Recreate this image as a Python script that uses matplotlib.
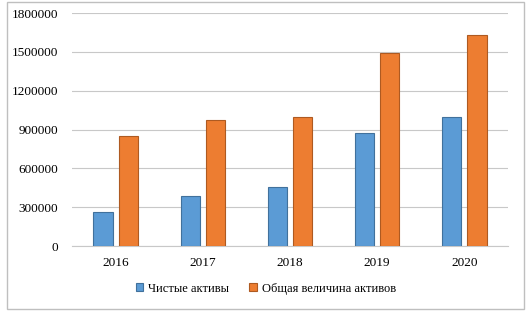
import matplotlib.pyplot as plt
import numpy as np
from matplotlib.patches import Rectangle

years = ["2016", "2017", "2018", "2019", "2020"]
net_assets = [262000, 385000, 455000, 870000, 995000]
total_assets = [850000, 975000, 997000, 1490000, 1630000]
labels = ["Чистые активы", "Общая величина активов"]
yticks = [0, 300000, 600000, 900000, 1200000, 1500000, 1800000]

plt.rcParams["font.family"] = ["Liberation Serif", "DejaVu Serif"]

fig = plt.figure(figsize=(5.32, 3.15), dpi=100)
ax = fig.add_axes([0.1353, 0.219, 0.8195, 0.7397])

x = np.arange(len(years))
w = 0.22
gap = 0.07
ax.bar(x - (w + gap) / 2, net_assets, w, color="#5B9BD5",
       edgecolor="#41719C", linewidth=0.8, label=labels[0], zorder=3)
ax.bar(x + (w + gap) / 2, total_assets, w, color="#ED7D31",
       edgecolor="#AE5A21", linewidth=0.8, label=labels[1], zorder=3)

ax.set_xlim(-0.5, len(years) - 0.5)
ax.set_ylim(0, 1800000)
ax.set_yticks(yticks)
ax.set_yticklabels([str(v) for v in yticks])
ax.set_xticks(x)
ax.set_xticklabels(years)
ax.tick_params(axis="both", length=0, labelsize=9.5, colors="#000000")
ax.tick_params(axis="y", pad=10)
ax.tick_params(axis="x", pad=8)
ax.grid(axis="y", color="#c8c8c8", linewidth=0.8, zorder=0)
for s in ["top", "right", "left"]:
    ax.spines[s].set_visible(False)
ax.spines["bottom"].set_color("#c8c8c8")
ax.spines["bottom"].set_linewidth(0.8)

fig.legend(loc="center", bbox_to_anchor=(0.5, 0.083), ncol=2, frameon=False,
           fontsize=9, handlelength=0.6, handleheight=0.6,
           handletextpad=0.4, columnspacing=1.6)

fig.patches.append(Rectangle((7 / 532, 1 - 309 / 315), 517 / 532, 307 / 315,
                             transform=fig.transFigure, fill=False,
                             edgecolor="#bfbfbf", linewidth=1.0))

fig.savefig("out.png", dpi=100)
